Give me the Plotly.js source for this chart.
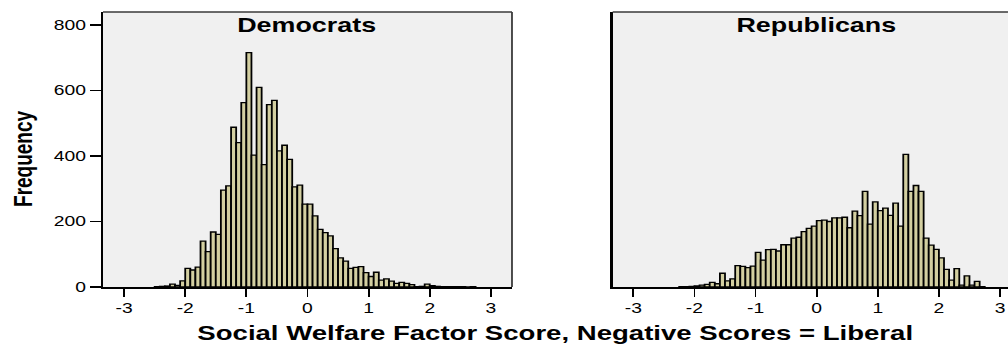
<!DOCTYPE html>
<html>
<head>
<meta charset="utf-8">
<script src="https://cdn.plot.ly/plotly-3.0.1.min.js"></script>
<style>
  html, body { margin: 0; padding: 0; background: #ffffff; overflow: hidden; }
  #wrap { width: 1008px; height: 347px; overflow: hidden; }
  #chart { width: 731px; height: 347px; transform: scaleX(1.3789); transform-origin: 0 0; }
</style>
</head>
<body>
<div id="wrap"><div id="chart"></div></div>
<script>
// ---- data ----
const binWidth = 1 / 12;
const panelTitles = ["Democrats", "Republicans"];
const xTickVals = [-3, -2, -1, 0, 1, 2, 3];
const yTickVals = [0, 200, 400, 600, 800];
const xTitle = "Social Welfare Factor Score, Negative Scores = Liberal";
const yTitle = "Frequency";

const demFirstEdge = -2.5;
const demCounts = [1, 2, 3, 9, 5, 19, 57, 52, 61, 140, 108, 168, 161, 296, 309, 488, 441, 563, 716, 403,
  610, 374, 557, 570, 416, 433, 390, 306, 311, 253, 253, 217, 176, 166, 156, 117, 89, 79, 57, 60,
  62, 44, 32, 45, 21, 25, 18, 11, 14, 11, 7, 1, 2, 9, 4, 2, 1, 1, 1, 1, 1, 0, 1];

const repFirstEdge = -2.25;
const repCounts = [1, 1, 2, 3, 6, 8, 14, 10, 42, 19, 25, 65, 63, 59, 64, 106, 82, 114, 115, 110,
  129, 129, 149, 152, 169, 179, 186, 203, 204, 200, 211, 211, 213, 181, 232, 218, 292, 192, 260, 233,
  241, 219, 256, 186, 405, 292, 310, 292, 149, 128, 115, 89, 54, 21, 56, 6, 34, 6, 17, 1];

function edges(first, n) { const a = []; for (let i = 0; i < n; i++) a.push(first + i * binWidth); return a; }

const barFill = "#d3cfa1";
const barLine = { color: "#000000", width: 1.3 };

const traces = [
  { type: "bar", x: edges(demFirstEdge, demCounts.length), y: demCounts, width: binWidth, offset: 0,
    marker: { color: barFill, line: barLine }, xaxis: "x", yaxis: "y", hoverinfo: "skip" },
  { type: "bar", x: edges(repFirstEdge, repCounts.length), y: repCounts, width: binWidth, offset: 0,
    marker: { color: barFill, line: barLine }, xaxis: "x2", yaxis: "y2", hoverinfo: "skip" }
];

const font = "Liberation Sans, Arial, sans-serif";
const d1 = [103 / 1008, 512 / 1008];
const d2 = [612.7 / 1008, 1];

const xCommon = {
  tickmode: "array", tickvals: xTickVals, ticktext: xTickVals.map(String),
  ticks: "outside", ticklen: 8, tickwidth: 1.3, tickcolor: "#000",
  showgrid: false, zeroline: false, showline: true, linecolor: "#000", linewidth: 1.6,
  tickfont: { family: font, size: 14, color: "#000" }, fixedrange: true
};

const layout = {
  width: 731, height: 347,
  margin: { l: 0, r: 0, t: 12, b: 60 },
  paper_bgcolor: "#ffffff", plot_bgcolor: "#f0f0f0",
  showlegend: false, bargap: 0,
  xaxis: Object.assign({}, xCommon, { domain: d1, range: [-3.345, 3.345], anchor: "y" }),
  xaxis2: Object.assign({}, xCommon, { domain: d2, range: [-3.338, 3.13], anchor: "y2" }),
  yaxis: {
    domain: [0, 1], range: [0, 840], anchor: "x",
    tickmode: "array", tickvals: yTickVals, ticktext: yTickVals.map(String),
    ticks: "outside", ticklen: 8, tickwidth: 1.3, tickcolor: "#000",
    showgrid: false, zeroline: false, showline: true, linecolor: "#000", linewidth: 1.6,
    tickfont: { family: font, size: 14, color: "#000" }, fixedrange: true
  },
  yaxis2: {
    domain: [0, 1], range: [0, 840], anchor: "x2",
    showticklabels: false, ticks: "",
    showgrid: false, zeroline: false, showline: true, linecolor: "#000", linewidth: 1.6, fixedrange: true
  },
  shapes: [
    { type: "line", xref: "paper", yref: "paper", x0: d1[0], x1: d1[1], y0: 1, y1: 1, line: { color: "#3a3a3a", width: 1.6 } },
    { type: "line", xref: "paper", yref: "paper", x0: d1[1], x1: d1[1], y0: 0, y1: 1, line: { color: "#3a3a3a", width: 1.3 } },
    { type: "line", xref: "paper", yref: "paper", x0: d2[0], x1: d2[1], y0: 1, y1: 1, line: { color: "#3a3a3a", width: 1.6 } }
  ],
  annotations: [
    { text: "<b>" + panelTitles[0] + "</b>", xref: "x", yref: "paper", x: 0, y: 0.953, xanchor: "center", yanchor: "middle",
      showarrow: false, font: { family: font, size: 19.5, color: "#000" } },
    { text: "<b>" + panelTitles[1] + "</b>", xref: "x2", yref: "paper", x: 0, y: 0.953, xanchor: "center", yanchor: "middle",
      showarrow: false, font: { family: font, size: 19.5, color: "#000" } },
    { text: "<b>" + xTitle + "</b>", xref: "paper", yref: "paper", x: 0.55, y: -0.167, xanchor: "center", yanchor: "middle",
      showarrow: false, font: { family: font, size: 20, color: "#000" } },
    { text: "<b>" + yTitle + "</b>", xref: "paper", yref: "paper", x: 22 / 1008, y: 0.469, xanchor: "center", yanchor: "middle",
      textangle: -90, showarrow: false, font: { family: font, size: 19, color: "#000" } }
  ]
};

Plotly.newPlot("chart", traces, layout, { staticPlot: true, displayModeBar: false });
</script>
</body>
</html>
